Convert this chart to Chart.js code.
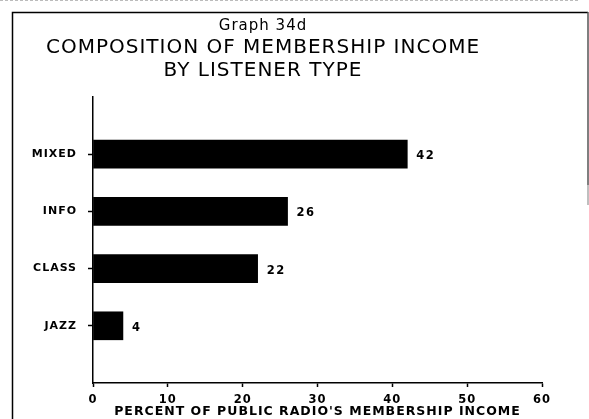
<!DOCTYPE html>
<html>
<head>
<meta charset="utf-8">
<script src="https://cdn.jsdelivr.net/npm/chart.js@4/dist/chart.umd.min.js"></script>
<style>
  html, body { margin: 0; padding: 0; background: #fff; }
  #wrap { width: 589px; height: 419px; position: relative; }
</style>
</head>
<body>
<div id="wrap"><canvas id="c" width="589" height="419"></canvas></div>
<script>
const categories = ['MIXED', 'INFO', 'CLASS', 'JAZZ'];
const values = [42, 26, 22, 4];
const xTicks = [0, 10, 20, 30, 40, 50, 60];
const titleLine = 'Graph 34d';
const subtitleLines = ['COMPOSITION OF MEMBERSHIP INCOME', 'BY LISTENER TYPE'];
const xAxisTitle = "PERCENT OF PUBLIC RADIO'S MEMBERSHIP INCOME";

// pad the category axis with an empty slot at each end
const yLabels = [''].concat(categories, ['']);
const yData = [null].concat(values, [null]);

const SPACING = '1px';

const spacingPlugin = {
  id: 'spacing',
  beforeLayout(chart) { chart.ctx.letterSpacing = SPACING; },
  afterLayout(chart) {
    // shift the title blocks slightly left, as in the original page
    chart.boxes.forEach(b => {
      if (!(b instanceof Chart.Scale) && b.position === 'top') {
        b.left = -16;
      }
    });
  },
  beforeDraw(chart) {
    const ctx = chart.ctx;
    ctx.letterSpacing = SPACING;
    ctx.save();
    ctx.fillStyle = '#fff';
    ctx.fillRect(0, 0, chart.width, chart.height);
    ctx.strokeStyle = '#000';
    ctx.lineWidth = 1.5;
    ctx.beginPath();
    ctx.moveTo(12.5, 419);
    ctx.lineTo(12.5, 12.5);
    ctx.lineTo(588, 12.5);
    ctx.stroke();
    ctx.strokeStyle = '#555';
    ctx.beginPath();
    ctx.moveTo(588, 12);
    ctx.lineTo(588, 185);
    ctx.stroke();
    ctx.strokeStyle = '#aaa';
    ctx.beginPath();
    ctx.moveTo(588, 185);
    ctx.lineTo(588, 205);
    ctx.stroke();
    ctx.strokeStyle = '#bbb';
    ctx.lineWidth = 1;
    ctx.setLineDash([3, 2]);
    ctx.beginPath();
    ctx.moveTo(0, 0.5);
    ctx.lineTo(580, 0.5);
    ctx.stroke();
    ctx.restore();
  }
};

const valueLabels = {
  id: 'valueLabels',
  afterDatasetsDraw(chart) {
    const ctx = chart.ctx;
    const meta = chart.getDatasetMeta(0);
    ctx.save();
    ctx.letterSpacing = '1.5px';
    ctx.font = 'bold 11.5px "DejaVu Sans"';
    ctx.fillStyle = '#000';
    ctx.textAlign = 'left';
    ctx.textBaseline = 'middle';
    meta.data.forEach((bar, i) => {
      const v = yData[i];
      if (v === null || v === undefined) return;
      ctx.fillText(String(v), bar.x + 9, bar.y + 2);
    });
    ctx.restore();
  }
};

new Chart(document.getElementById('c'), {
  type: 'bar',
  data: {
    labels: yLabels,
    datasets: [{
      data: yData,
      backgroundColor: '#000',
      borderWidth: 0,
      barThickness: 28
    }]
  },
  options: {
    indexAxis: 'y',
    responsive: false,
    animation: false,
    layout: { padding: { left: 0, right: 47, top: 0, bottom: 0 } },
    plugins: {
      legend: { display: false },
      tooltip: { enabled: false },
      title: {
        display: true,
        text: titleLine,
        color: '#000',
        font: { family: '"DejaVu Sans"', size: 15, weight: 'normal', lineHeight: 1.2 },
        padding: { top: 17, bottom: 2 }
      },
      subtitle: {
        display: true,
        text: subtitleLines,
        color: '#000',
        font: { family: '"DejaVu Sans"', size: 20, weight: 'normal', lineHeight: 1.125 },
        padding: { top: 0, bottom: 15 }
      }
    },
    scales: {
      x: {
        type: 'linear',
        min: 0,
        max: 60,
        afterBuildTicks(scale) { scale.ticks = xTicks.map(v => ({ value: v })); },
        afterFit(scale) { scale.height = 36; },
        grid: { drawOnChartArea: false, tickLength: 4, tickColor: '#000', tickWidth: 1.5 },
        border: { display: true, color: '#000', width: 1.5 },
        ticks: {
          color: '#000',
          padding: 6,
          font: { family: '"DejaVu Sans"', size: 11.5, weight: 'bold', lineHeight: 1.2 }
        },
        title: {
          display: true,
          text: xAxisTitle,
          color: '#000',
          padding: { top: 0, bottom: 0 },
          font: { family: '"DejaVu Sans"', size: 12.5, weight: 'bold', lineHeight: 1.1 }
        }
      },
      y: {
        type: 'category',
        offset: false,
        afterFit(scale) { scale.width = 93; },
        grid: {
          offset: false,
          drawOnChartArea: false,
          tickLength: 5,
          tickWidth: 1.5,
          tickColor: (c) => (yLabels[c.index] ? '#000' : 'rgba(0,0,0,0)')
        },
        border: { display: true, color: '#000', width: 1.5 },
        ticks: {
          color: '#000',
          padding: 11,
          autoSkip: false,
          font: { family: '"DejaVu Sans"', size: 11, weight: 'bold', lineHeight: 1.2 }
        }
      }
    }
  },
  plugins: [spacingPlugin, valueLabels]
});
</script>
</body>
</html>
